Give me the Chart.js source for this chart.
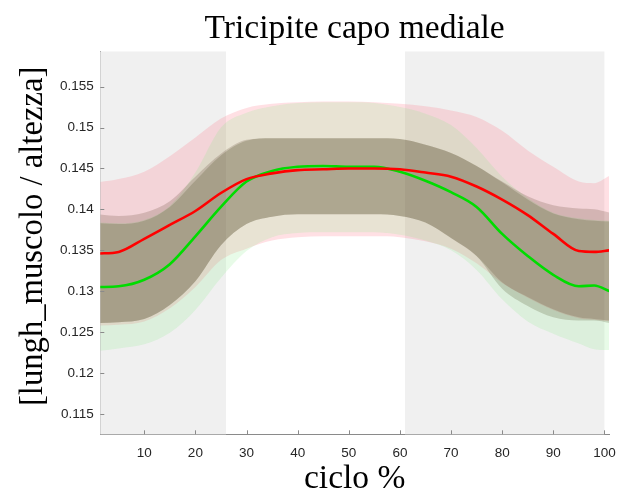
<!DOCTYPE html>
<html lang="it">
<head>
<meta charset="UTF-8">
<title>Tricipite capo mediale</title>
<script src="https://cdn.jsdelivr.net/npm/chart.js@4.4.0/dist/chart.umd.min.js"></script>
<style>
  html, body { margin: 0; padding: 0; background: #fff; }
</style>
</head>
<body>
<canvas id="chart" width="624" height="496"></canvas>
<script>
// % of cycle where the curves are sampled
const cycle = [1, 5, 10, 15, 20, 25, 30, 35, 40, 45, 50, 55, 60, 65, 70, 75, 80, 85, 90, 95, 98, 101];

// mean curves
const redMean   = [0.1346, 0.1348, 0.1364, 0.1381, 0.1398, 0.1420, 0.1437, 0.1444, 0.1448, 0.1449, 0.1450, 0.1450, 0.1449, 0.1445, 0.1440, 0.1428, 0.1412, 0.1393, 0.1370, 0.1349, 0.1348, 0.1350];
const greenMean = [0.1305, 0.1306, 0.1314, 0.1333, 0.1367, 0.1403, 0.1434, 0.1447, 0.1452, 0.1453, 0.1452, 0.1452, 0.1446, 0.1435, 0.1421, 0.1403, 0.1370, 0.1343, 0.1320, 0.1306, 0.1307, 0.1300];

// wide bands
const redOuterHi   = [0.1433, 0.1437, 0.1446, 0.1465, 0.1488, 0.1511, 0.1524, 0.1529, 0.1531, 0.1532, 0.1532, 0.1531, 0.1529, 0.1526, 0.1521, 0.1513, 0.1496, 0.1472, 0.1452, 0.1434, 0.1432, 0.1441];
const redOuterLo   = [0.1258, 0.1259, 0.1263, 0.1279, 0.1305, 0.1338, 0.1352, 0.1362, 0.1366, 0.1367, 0.1367, 0.1367, 0.1366, 0.1361, 0.1352, 0.1334, 0.1310, 0.1292, 0.1277, 0.1267, 0.1265, 0.1263];
const greenOuterHi = [0.1384, 0.1383, 0.1387, 0.1404, 0.1445, 0.1500, 0.1518, 0.1526, 0.1530, 0.1531, 0.1531, 0.1530, 0.1525, 0.1517, 0.1503, 0.1475, 0.1440, 0.1414, 0.1396, 0.1389, 0.1387, 0.1386];
const greenOuterLo = [0.1227, 0.1230, 0.1235, 0.1249, 0.1277, 0.1316, 0.1349, 0.1366, 0.1371, 0.1372, 0.1372, 0.1372, 0.1369, 0.1362, 0.1350, 0.1326, 0.1290, 0.1263, 0.1248, 0.1236, 0.1229, 0.1228];

// narrow bands
const redInnerHi   = [0.1394, 0.1392, 0.1396, 0.1410, 0.1440, 0.1468, 0.1485, 0.1487, 0.1487, 0.1487, 0.1487, 0.1487, 0.1486, 0.1479, 0.1469, 0.1453, 0.1434, 0.1416, 0.1405, 0.1401, 0.1400, 0.1396];
const redInnerLo   = [0.1261, 0.1262, 0.1266, 0.1283, 0.1312, 0.1356, 0.1382, 0.1391, 0.1394, 0.1394, 0.1394, 0.1394, 0.1392, 0.1384, 0.1365, 0.1343, 0.1311, 0.1293, 0.1278, 0.1268, 0.1266, 0.1264];
const greenInnerHi = [0.1383, 0.1382, 0.1386, 0.1403, 0.1435, 0.1466, 0.1484, 0.1487, 0.1487, 0.1487, 0.1487, 0.1487, 0.1486, 0.1479, 0.1469, 0.1453, 0.1433, 0.1412, 0.1395, 0.1388, 0.1386, 0.1385];
const greenInnerLo = [0.1261, 0.1262, 0.1266, 0.1283, 0.1312, 0.1356, 0.1382, 0.1391, 0.1394, 0.1394, 0.1394, 0.1394, 0.1392, 0.1384, 0.1365, 0.1343, 0.1303, 0.1282, 0.1268, 0.1264, 0.1264, 0.1261];

// grey phases of the cycle
const shadedPhases = [[1, 26], [61, 100]];

// axis ticks
const xTicks = [10, 20, 30, 40, 50, 60, 70, 80, 90, 100];
const yTicks = [0.115, 0.12, 0.125, 0.13, 0.135, 0.14, 0.145, 0.15, 0.155];

const axisColor = '#8a8a8a';
const tickText = '#262626';
const serif = "'Liberation Serif', 'DejaVu Serif', serif";
const sans = "'Liberation Sans', Arial, sans-serif";

const pts = arr => cycle.map((c, i) => ({ x: c, y: arr[i] }));

function band(hi, lo, color) {
  return [
    { data: pts(hi), fill: '+1', backgroundColor: color, borderColor: 'transparent', borderWidth: 0, pointRadius: 0 },
    { data: pts(lo), fill: false, borderColor: 'transparent', borderWidth: 0, pointRadius: 0 }
  ];
}

const shadePlugin = {
  id: 'shade',
  beforeDatasetsDraw(chart) {
    const { ctx, chartArea: ca, scales: { x } } = chart;
    ctx.save();
    ctx.fillStyle = '#f0f0f0';
    for (const [a, b] of shadedPhases) {
      const x0 = Math.max(x.getPixelForValue(a), ca.left);
      const x1 = Math.min(x.getPixelForValue(b), ca.right);
      ctx.fillRect(x0, ca.top, x1 - x0, ca.bottom - ca.top);
    }
    ctx.restore();
  }
};

// matlab style ticks pointing inwards
const innerTicks = {
  id: 'innerTicks',
  afterDraw(chart) {
    const { ctx, chartArea: ca, scales: { x, y } } = chart;
    ctx.save();
    ctx.strokeStyle = axisColor;
    ctx.lineWidth = 1;
    ctx.beginPath();
    x.ticks.forEach(t => {
      const px = Math.round(x.getPixelForValue(t.value)) + 0.5;
      ctx.moveTo(px, ca.bottom);
      ctx.lineTo(px, ca.bottom - 4);
    });
    y.ticks.forEach(t => {
      const py = Math.round(y.getPixelForValue(t.value)) + 0.5;
      ctx.moveTo(ca.left, py);
      ctx.lineTo(ca.left + 4, py);
    });
    ctx.stroke();
    ctx.restore();
  }
};

new Chart(document.getElementById('chart'), {
  type: 'line',
  data: {
    datasets: [
      { data: pts(redMean), borderColor: '#ff0000', borderWidth: 2.6, pointRadius: 0, fill: false },
      { data: pts(greenMean), borderColor: '#00dc00', borderWidth: 2.6, pointRadius: 0, fill: false },
      ...band(greenInnerHi, greenInnerLo, 'rgba(60,65,20,0.2)'),
      ...band(redInnerHi, redInnerLo, 'rgba(85,55,35,0.2)'),
      ...band(greenOuterHi, greenOuterLo, 'rgba(140,235,140,0.2)'),
      ...band(redOuterHi, redOuterLo, 'rgba(255,115,130,0.22)')
    ]
  },
  options: {
    responsive: false,
    animation: false,
    events: [],
    cubicInterpolationMode: 'monotone',
    layout: { padding: { left: 0, right: 15, top: 0, bottom: 0 } },
    plugins: {
      legend: { display: false },
      tooltip: { enabled: false },
      title: {
        display: true,
        text: 'Tricipite capo mediale',
        fullSize: false,
        color: '#000',
        font: { family: serif, size: 33.5, weight: 'normal', lineHeight: 1 },
        padding: { top: 12, bottom: 6 }
      }
    },
    scales: {
      x: {
        type: 'linear',
        min: 1.4,
        max: 100.9,
        afterBuildTicks: s => { s.ticks = xTicks.map(v => ({ value: v })); },
        afterFit: s => { s.paddingLeft = 0; s.paddingRight = 0; },
        ticks: { color: tickText, font: { family: sans, size: 13.5 }, padding: 10.5, maxRotation: 0 },
        grid: { display: false, drawTicks: false },
        border: { display: true, color: axisColor, width: 1 },
        title: {
          display: true, text: 'ciclo %', color: '#000',
          font: { family: serif, size: 33.5, weight: 'normal', lineHeight: 1 },
          padding: { top: -9, bottom: 0 }
        }
      },
      y: {
        min: 0.1125,
        max: 0.1593,
        afterBuildTicks: s => { s.ticks = yTicks.map(v => ({ value: v })); },
        ticks: {
          color: tickText,
          font: { family: sans, size: 13.5 },
          padding: 6.5,
          callback: v => String(Number(v.toFixed(3)))
        },
        grid: { display: false, drawTicks: false },
        border: { display: true, color: axisColor, width: 1 },
        title: {
          display: true, text: '\u2009\u2009[lungh_muscolo / altezza]', color: '#000',
          font: { family: serif, size: 32.7, weight: 'normal', lineHeight: 1 },
          padding: { top: 17, bottom: 3.8 }
        }
      }
    }
  },
  plugins: [shadePlugin, innerTicks]
});
</script>
</body>
</html>
